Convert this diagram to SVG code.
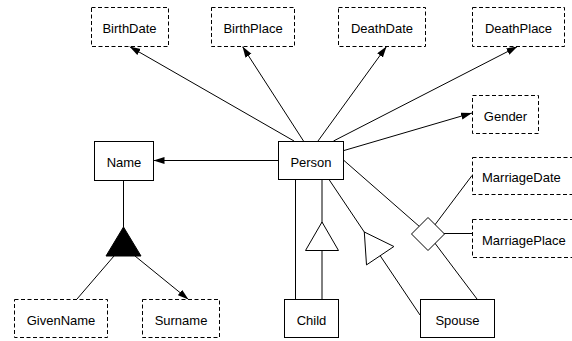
<svg xmlns="http://www.w3.org/2000/svg" width="572" height="341" viewBox="0 0 572 341">
<style>
.box{fill:#fff;stroke:#000;stroke-width:1}
.attr{fill:#fff;stroke:#000;stroke-width:1;stroke-dasharray:4,2.5}
.lbl{font-family:"Liberation Sans",Arial,sans-serif;font-size:13px;fill:#000;text-anchor:middle}
.lbls{font-family:"Liberation Sans",Arial,sans-serif;font-size:13px;fill:#000;text-anchor:start}
.ln{stroke:#000;stroke-width:1;fill:none}
.arr{stroke:#000;stroke-width:1;fill:none;marker-end:url(#ah)}
.tri{fill:#fff;stroke:#000;stroke-width:1}
</style>
<defs>
<marker id="ah" markerUnits="userSpaceOnUse" markerWidth="12" markerHeight="8" refX="11" refY="3.5" orient="auto">
<path d="M0,0 L11,3.5 L0,7 z" fill="#000"/>
</marker>
</defs>
<g id="connectors">
<line class="arr" x1="294" y1="141" x2="129.5" y2="46.5"/>
<line class="arr" x1="303.5" y1="141" x2="242.5" y2="46.5"/>
<line class="arr" x1="318" y1="141" x2="386.5" y2="46.5"/>
<line class="arr" x1="333.5" y1="141" x2="517.5" y2="46.5"/>
<line class="arr" x1="344" y1="150.5" x2="472" y2="113"/>
<line class="arr" x1="278" y1="160.5" x2="153.5" y2="160.5"/>
<line class="ln" x1="344" y1="160.5" x2="428" y2="234"/>
<line class="ln" x1="428" y1="234" x2="472" y2="175.5"/>
<line class="ln" x1="428" y1="233.5" x2="472" y2="233.5"/>
<line class="ln" x1="428" y1="234" x2="477" y2="299"/>
<line class="ln" x1="329" y1="179.5" x2="420" y2="315"/>
<line class="ln" x1="295.5" y1="179.5" x2="295.5" y2="299"/>
<line class="ln" x1="322" y1="179.5" x2="322" y2="299"/>
<line class="ln" x1="123.5" y1="180" x2="123.5" y2="227"/>
<line class="ln" x1="114" y1="256" x2="77" y2="299"/>
<line class="arr" x1="135" y1="256" x2="188.5" y2="299.5"/>
<polygon points="123.5,227 106,256 141,256" fill="#000" stroke="#000"/>
<polygon class="tri" points="322,222 305.5,250.5 338.5,250.5"/>
<polygon class="tri" points="364.3,232 393.9,246.5 366.5,264.9"/>
<polygon class="tri" points="428,217.5 444.5,234 428,250.5 411.5,234"/>
</g>
<g id="BirthDate"><rect class="attr" x="91.5" y="7.5" width="77" height="39"/><text class="lbl" x="129.5" y="33">BirthDate</text></g>
<g id="BirthPlace"><rect class="attr" x="211.5" y="7.5" width="83" height="39"/><text class="lbl" x="253" y="33">BirthPlace</text></g>
<g id="DeathDate"><rect class="attr" x="338.5" y="7.5" width="87" height="39"/><text class="lbl" x="382" y="33">DeathDate</text></g>
<g id="DeathPlace"><rect class="attr" x="472.5" y="7.5" width="92" height="39"/><text class="lbl" x="518.5" y="33">DeathPlace</text></g>
<g id="Gender"><rect class="attr" x="472.5" y="95.5" width="66" height="38"/><text class="lbl" x="505.5" y="120.5">Gender</text></g>
<g id="Name"><rect class="box" x="94.5" y="141.5" width="59" height="39"/><text class="lbl" x="124" y="167">Name</text></g>
<g id="Person"><rect class="box" x="278.5" y="141.5" width="65" height="38"/><text class="lbl" x="311" y="167">Person</text></g>
<g id="MarriageDate"><rect class="attr" x="472.5" y="157.5" width="110" height="37"/><text class="lbls" x="482" y="182">MarriageDate</text></g>
<g id="MarriagePlace"><rect class="attr" x="472.5" y="219.5" width="110" height="38"/><text class="lbls" x="482" y="244.5">MarriagePlace</text></g>
<g id="GivenName"><rect class="attr" x="14.5" y="299.5" width="93" height="38"/><text class="lbl" x="61" y="325">GivenName</text></g>
<g id="Surname"><rect class="attr" x="142.5" y="299.5" width="77" height="38"/><text class="lbl" x="181" y="325">Surname</text></g>
<g id="Child"><rect class="box" x="284.5" y="299.5" width="54" height="38"/><text class="lbl" x="311.5" y="325">Child</text></g>
<g id="Spouse"><rect class="box" x="420.5" y="299.5" width="74" height="38"/><text class="lbl" x="457.5" y="325">Spouse</text></g>
</svg>
